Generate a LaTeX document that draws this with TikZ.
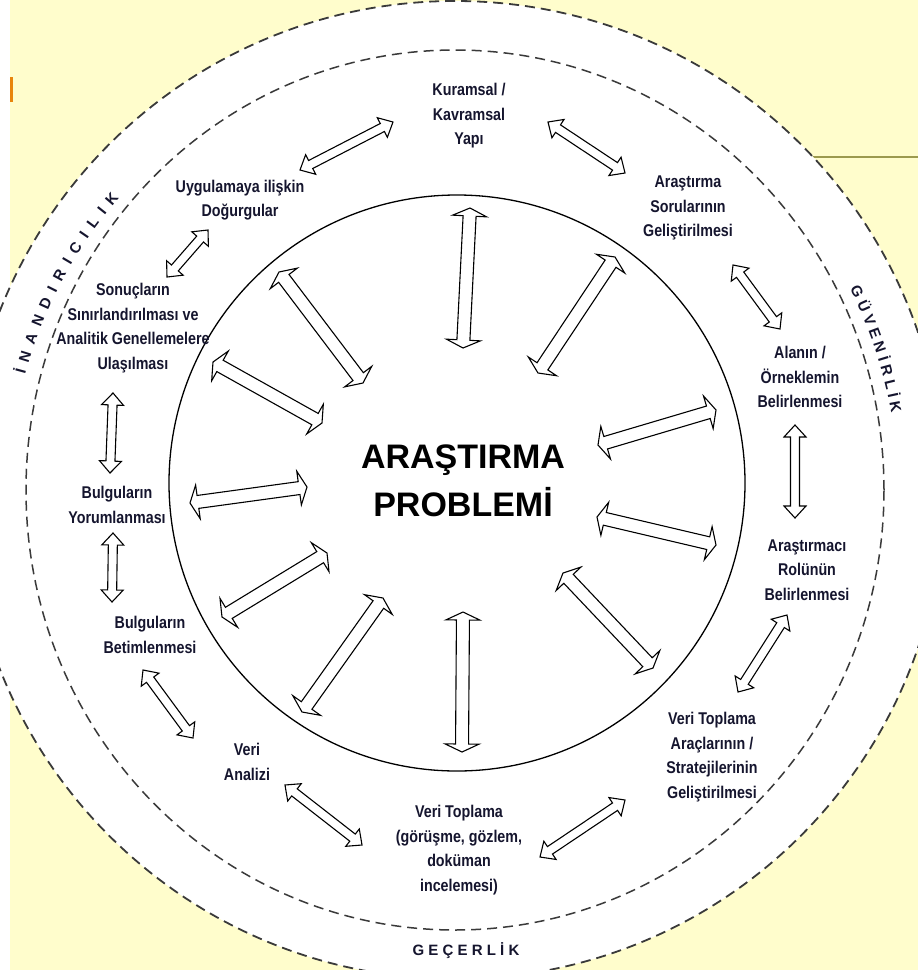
\documentclass[tikz,border=0pt]{standalone}
\usepackage{fontspec}
\setmainfont{Liberation Sans}
\newfontfamily\narrowfont{Liberation Sans}[FakeStretch=0.84]
\newfontfamily\ringfontfam{Liberation Sans}
\usetikzlibrary{calc,decorations.text}
\definecolor{bgyellow}{HTML}{FFFDCC}
\definecolor{orangebar}{HTML}{E8850C}
\definecolor{oliveline}{HTML}{9C9A4E}
\definecolor{dashc}{HTML}{3A3A3A}
\definecolor{txtc}{HTML}{15152E}
\newcommand\ringfont{\ringfontfam\bfseries\fontsize{15}{16}\selectfont}
\newcommand\blockarrow[5]{%
  \filldraw[arrowbody] ($(#1)$)
    -- ($(#1)!#5!(#2)!#4!90:(#2)$)
    -- ($(#1)!#5!(#2)!#3!90:(#2)$)
    -- ($(#2)!#5!(#1)!#3!-90:(#1)$)
    -- ($(#2)!#5!(#1)!#4!-90:(#1)$)
    -- ($(#2)$)
    -- ($(#2)!#5!(#1)!#4!90:(#1)$)
    -- ($(#2)!#5!(#1)!#3!90:(#1)$)
    -- ($(#1)!#5!(#2)!#3!-90:(#2)$)
    -- ($(#1)!#5!(#2)!#4!-90:(#2)$)
    -- cycle;}
\tikzset{
  lbl/.style={align=center, font=\narrowfont\bfseries\fontsize{17}{24.5}\selectfont, text=txtc, inner sep=0pt},
  ringdash/.style={dash pattern=on 10pt off 6pt, line width=1.8pt, draw=dashc},
  innerdash/.style={dash pattern=on 10pt off 6pt, line width=1.5pt, draw=dashc},
  arrowbody/.style={draw=black, line width=1.1pt, fill=white, line join=miter},
}
\begin{document}
\begin{tikzpicture}[x=1pt,y=-1pt]
\useasboundingbox (0,0) rectangle (918,970);
\clip (0,0) rectangle (918,970);
% background
\fill[white] (0,0) rectangle (918,970);
\fill[bgyellow] (10,0) rectangle (918,970);
\fill[orangebar] (10,77) rectangle (13,102);
\draw[oliveline, line width=2pt] (800,157) -- (918,157);
% rings
\coordinate (ctr) at (455,490);
\filldraw[fill=white, ringdash] (ctr) circle[radius=489pt];
\draw[innerdash] (ctr) ellipse[x radius=429pt, y radius=440pt];
\draw[line width=1.3pt] (457,483) circle[radius=288pt];
% ring labels
\path[decorate, decoration={text along path, text={|\color{txtc}\ringfont|İNANDIRICILIK}, text align={fit to path}}]
  (ctr) ++(165:445pt) arc[start angle=165, end angle=139, radius=445pt];
\path[decorate, decoration={text along path, text={|\color{txtc}\ringfont|GÜVENİRLİK}, text align={fit to path}}]
  (ctr) ++(27:443pt) arc[start angle=27, end angle=10, radius=443pt];
\node[font=\ringfont\addfontfeatures{LetterSpace=28}, text=txtc, inner sep=0pt] (gec) at (466,951) {GEÇERLİK};
% title
\node[align=center, font=\bfseries\fontsize{34}{48}\selectfont, inner sep=0pt] (title) at (463,481) {ARAŞTIRMA\\PROBLEMİ};
% step labels
\node[lbl] (k1) at (469,116) {Kuramsal /\\Kavramsal\\Yapı};
\node[lbl] (k2) at (688,208) {Araştırma\\Sorularının\\Geliştirilmesi};
\node[lbl] (k3) at (800,377) {Alanın /\\Örneklemin\\Belirlenmesi};
\node[lbl] (k4) at (807,570) {Araştırmacı\\Rolünün\\Belirlenmesi};
\node[lbl] (k5) at (712,757) {Veri Toplama\\Araçlarının /\\Stratejilerinin\\Geliştirilmesi};
\node[lbl] (k6) at (459,850) {Veri Toplama\\(görüşme, gözlem,\\doküman\\incelemesi)};
\node[lbl] (k7) at (247,762) {Veri\\Analizi};
\node[lbl] (k8) at (150,635) {Bulguların\\Betimlenmesi};
\node[lbl] (k9) at (117,505) {Bulguların\\Yorumlanması};
\node[lbl] (k10) at (133,328) {Sonuçların\\Sınırlandırılması ve\\Analitik Genellemelere\\Ulaşılması};
\node[lbl] (k11) at (240,200) {Uygulamaya ilişkin\\Doğurgular};
% outer ring arrow ends
\coordinate (o1a) at (300,170); \coordinate (o1b) at (393,122);
\coordinate (o2a) at (548,122); \coordinate (o2b) at (625,173);
\coordinate (o3a) at (733,265); \coordinate (o3b) at (780,329);
\coordinate (o4a) at (795,425); \coordinate (o4b) at (795,518);
\coordinate (o5a) at (787,615); \coordinate (o5b) at (738,692);
\coordinate (o6a) at (625,800); \coordinate (o6b) at (540,857);
\coordinate (o7a) at (285,785); \coordinate (o7b) at (362,845);
\coordinate (o8a) at (143,670); \coordinate (o8b) at (193,738);
\coordinate (o9a) at (113,533); \coordinate (o9b) at (112,602);
\coordinate (o10a) at (113,393); \coordinate (o10b) at (110,473);
\coordinate (o11a) at (167,277); \coordinate (o11b) at (208,230);
\foreach \i in {1,...,11}{\blockarrow{o\i a}{o\i b}{4.5pt}{11pt}{12pt}}
% inner radial arrow ends
\coordinate (ra1) at (470,208); \coordinate (rb1) at (463,348);
\coordinate (ra2) at (615,257); \coordinate (rb2) at (538,373);
\coordinate (ra3) at (716,410); \coordinate (rb3) at (598,445);
\coordinate (ra4) at (716,545); \coordinate (rb4) at (597,517);
\coordinate (ra5) at (653,668); \coordinate (rb5) at (563,573);
\coordinate (ra6) at (463,612); \coordinate (rb6) at (462,752);
\coordinate (ra7) at (383,598); \coordinate (rb7) at (302,712);
\coordinate (ra8) at (327,553); \coordinate (rb8) at (222,617);
\coordinate (ra9) at (307,487); \coordinate (rb9) at (190,503);
\coordinate (ra10) at (322,423); \coordinate (rb10) at (213,362);
\coordinate (ra11) at (363,383); \coordinate (rb11) at (279,272);
\foreach \i in {1,...,11}{\blockarrow{ra\i}{rb\i}{6.5pt}{17pt}{8pt}}
\end{tikzpicture}
\end{document}
